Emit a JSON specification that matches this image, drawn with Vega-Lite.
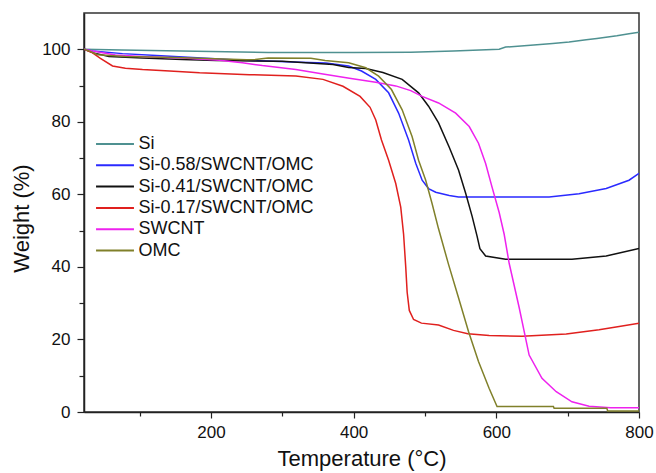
{
 "$schema": "https://vega.github.io/schema/vega-lite/v6.json",
 "width": 555, "height": 399,
 "autosize": {"type": "none"},
 "padding": {"left": 84, "top": 13, "right": 17, "bottom": 61},
 "background": "white",
 "config": {"font": "Liberation Sans", "view": {"stroke": "#333333", "strokeWidth": 1.5}},
 "datasets": {
  "tga": [
   {"s":"Si","T":22,"W":100},{"s":"Si","T":75,"W":99.8},{"s":"Si","T":200,"W":99.4},{"s":"Si","T":280,"W":99.1},{"s":"Si","T":400,"W":99.1},{"s":"Si","T":480,"W":99.2},{"s":"Si","T":540,"W":99.5},{"s":"Si","T":604,"W":100},{"s":"Si","T":613,"W":100.6},{"s":"Si","T":648,"W":101.1},{"s":"Si","T":679,"W":101.6},{"s":"Si","T":702,"W":102},{"s":"Si","T":726,"W":102.6},{"s":"Si","T":741,"W":103},{"s":"Si","T":769,"W":103.7},{"s":"Si","T":786,"W":104.3},{"s":"Si","T":800,"W":104.7},
   {"s":"Si-0.58/SWCNT/OMC","T":22,"W":100},{"s":"Si-0.58/SWCNT/OMC","T":34,"W":99.5},{"s":"Si-0.58/SWCNT/OMC","T":76,"W":98.8},{"s":"Si-0.58/SWCNT/OMC","T":130,"W":98.2},{"s":"Si-0.58/SWCNT/OMC","T":174,"W":97.7},{"s":"Si-0.58/SWCNT/OMC","T":244,"W":97},{"s":"Si-0.58/SWCNT/OMC","T":314,"W":96.5},{"s":"Si-0.58/SWCNT/OMC","T":361,"W":96.2},{"s":"Si-0.58/SWCNT/OMC","T":393,"W":95.4},{"s":"Si-0.58/SWCNT/OMC","T":411,"W":94},{"s":"Si-0.58/SWCNT/OMC","T":431,"W":91.7},{"s":"Si-0.58/SWCNT/OMC","T":449,"W":88},{"s":"Si-0.58/SWCNT/OMC","T":463,"W":82.4},{"s":"Si-0.58/SWCNT/OMC","T":477,"W":75},{"s":"Si-0.58/SWCNT/OMC","T":487,"W":68.6},{"s":"Si-0.58/SWCNT/OMC","T":496,"W":63.9},{"s":"Si-0.58/SWCNT/OMC","T":505,"W":61.6},{"s":"Si-0.58/SWCNT/OMC","T":515,"W":60.6},{"s":"Si-0.58/SWCNT/OMC","T":534,"W":59.7},{"s":"Si-0.58/SWCNT/OMC","T":547,"W":59.3},{"s":"Si-0.58/SWCNT/OMC","T":674,"W":59.3},{"s":"Si-0.58/SWCNT/OMC","T":716,"W":60.2},{"s":"Si-0.58/SWCNT/OMC","T":754,"W":61.6},{"s":"Si-0.58/SWCNT/OMC","T":786,"W":63.9},{"s":"Si-0.58/SWCNT/OMC","T":800,"W":65.8},
   {"s":"Si-0.41/SWCNT/OMC","T":22,"W":100},{"s":"Si-0.41/SWCNT/OMC","T":35,"W":99},{"s":"Si-0.41/SWCNT/OMC","T":57,"W":98},{"s":"Si-0.41/SWCNT/OMC","T":104,"W":97.6},{"s":"Si-0.41/SWCNT/OMC","T":160,"W":97.2},{"s":"Si-0.41/SWCNT/OMC","T":207,"W":96.9},{"s":"Si-0.41/SWCNT/OMC","T":300,"W":96.7},{"s":"Si-0.41/SWCNT/OMC","T":371,"W":95.8},{"s":"Si-0.41/SWCNT/OMC","T":393,"W":95},{"s":"Si-0.41/SWCNT/OMC","T":417,"W":94.7},{"s":"Si-0.41/SWCNT/OMC","T":441,"W":93.6},{"s":"Si-0.41/SWCNT/OMC","T":468,"W":91.7},{"s":"Si-0.41/SWCNT/OMC","T":491,"W":88},{"s":"Si-0.41/SWCNT/OMC","T":505,"W":84.3},{"s":"Si-0.41/SWCNT/OMC","T":519,"W":79.7},{"s":"Si-0.41/SWCNT/OMC","T":534,"W":73},{"s":"Si-0.41/SWCNT/OMC","T":547,"W":66.7},{"s":"Si-0.41/SWCNT/OMC","T":557,"W":60.3},{"s":"Si-0.41/SWCNT/OMC","T":566,"W":54},{"s":"Si-0.41/SWCNT/OMC","T":573,"W":48.5},{"s":"Si-0.41/SWCNT/OMC","T":577,"W":45},{"s":"Si-0.41/SWCNT/OMC","T":585,"W":43},{"s":"Si-0.41/SWCNT/OMC","T":613,"W":42.1},{"s":"Si-0.41/SWCNT/OMC","T":706,"W":42.1},{"s":"Si-0.41/SWCNT/OMC","T":754,"W":43},{"s":"Si-0.41/SWCNT/OMC","T":800,"W":45.1},
   {"s":"Si-0.17/SWCNT/OMC","T":22,"W":100},{"s":"Si-0.17/SWCNT/OMC","T":34,"W":99},{"s":"Si-0.17/SWCNT/OMC","T":45,"W":97.5},{"s":"Si-0.17/SWCNT/OMC","T":62,"W":95.4},{"s":"Si-0.17/SWCNT/OMC","T":80,"W":94.8},{"s":"Si-0.17/SWCNT/OMC","T":104,"W":94.4},{"s":"Si-0.17/SWCNT/OMC","T":142,"W":94},{"s":"Si-0.17/SWCNT/OMC","T":184,"W":93.5},{"s":"Si-0.17/SWCNT/OMC","T":254,"W":93},{"s":"Si-0.17/SWCNT/OMC","T":319,"W":92.6},{"s":"Si-0.17/SWCNT/OMC","T":357,"W":91.7},{"s":"Si-0.17/SWCNT/OMC","T":385,"W":89.8},{"s":"Si-0.17/SWCNT/OMC","T":409,"W":87},{"s":"Si-0.17/SWCNT/OMC","T":423,"W":84},{"s":"Si-0.17/SWCNT/OMC","T":431,"W":80.5},{"s":"Si-0.17/SWCNT/OMC","T":439,"W":75},{"s":"Si-0.17/SWCNT/OMC","T":449,"W":69.4},{"s":"Si-0.17/SWCNT/OMC","T":459,"W":63},{"s":"Si-0.17/SWCNT/OMC","T":466,"W":56.5},{"s":"Si-0.17/SWCNT/OMC","T":470,"W":49},{"s":"Si-0.17/SWCNT/OMC","T":473,"W":40},{"s":"Si-0.17/SWCNT/OMC","T":475,"W":33},{"s":"Si-0.17/SWCNT/OMC","T":478,"W":28},{"s":"Si-0.17/SWCNT/OMC","T":484,"W":25.5},{"s":"Si-0.17/SWCNT/OMC","T":495,"W":24.5},{"s":"Si-0.17/SWCNT/OMC","T":519,"W":24},{"s":"Si-0.17/SWCNT/OMC","T":540,"W":22.5},{"s":"Si-0.17/SWCNT/OMC","T":560,"W":21.6},{"s":"Si-0.17/SWCNT/OMC","T":590,"W":21.1},{"s":"Si-0.17/SWCNT/OMC","T":636,"W":20.9},{"s":"Si-0.17/SWCNT/OMC","T":698,"W":21.5},{"s":"Si-0.17/SWCNT/OMC","T":744,"W":22.7},{"s":"Si-0.17/SWCNT/OMC","T":770,"W":23.5},{"s":"Si-0.17/SWCNT/OMC","T":800,"W":24.5},
   {"s":"SWCNT","T":22,"W":100},{"s":"SWCNT","T":34,"W":99.5},{"s":"SWCNT","T":66,"W":98.4},{"s":"SWCNT","T":114,"W":97.9},{"s":"SWCNT","T":160,"W":97.6},{"s":"SWCNT","T":212,"W":97},{"s":"SWCNT","T":244,"W":96.3},{"s":"SWCNT","T":272,"W":95.5},{"s":"SWCNT","T":319,"W":94.4},{"s":"SWCNT","T":357,"W":93.2},{"s":"SWCNT","T":394,"W":92},{"s":"SWCNT","T":431,"W":90.9},{"s":"SWCNT","T":459,"W":89.9},{"s":"SWCNT","T":480,"W":88.6},{"s":"SWCNT","T":496,"W":87},{"s":"SWCNT","T":519,"W":85.2},{"s":"SWCNT","T":543,"W":82.4},{"s":"SWCNT","T":562,"W":78.7},{"s":"SWCNT","T":575,"W":74.1},{"s":"SWCNT","T":585,"W":68.5},{"s":"SWCNT","T":594,"W":62},{"s":"SWCNT","T":604,"W":55},{"s":"SWCNT","T":611,"W":49},{"s":"SWCNT","T":618,"W":41},{"s":"SWCNT","T":632,"W":28.8},{"s":"SWCNT","T":646,"W":15.7},{"s":"SWCNT","T":664,"W":9.3},{"s":"SWCNT","T":684,"W":5.6},{"s":"SWCNT","T":706,"W":2.8},{"s":"SWCNT","T":730,"W":1.6},{"s":"SWCNT","T":760,"W":1.2},{"s":"SWCNT","T":800,"W":1.2},
   {"s":"OMC","T":22,"W":100},{"s":"OMC","T":30,"W":99.5},{"s":"OMC","T":41,"W":98.5},{"s":"OMC","T":80,"W":98},{"s":"OMC","T":150,"W":97.7},{"s":"OMC","T":250,"W":97.1},{"s":"OMC","T":262,"W":97.2},{"s":"OMC","T":280,"W":97.6},{"s":"OMC","T":340,"W":97.5},{"s":"OMC","T":360,"W":96.9},{"s":"OMC","T":393,"W":96.3},{"s":"OMC","T":417,"W":94.9},{"s":"OMC","T":435,"W":92.6},{"s":"OMC","T":453,"W":88.9},{"s":"OMC","T":468,"W":83.3},{"s":"OMC","T":482,"W":75.9},{"s":"OMC","T":491,"W":69.4},{"s":"OMC","T":501,"W":63.9},{"s":"OMC","T":510,"W":57.4},{"s":"OMC","T":519,"W":50.5},{"s":"OMC","T":533,"W":40.7},{"s":"OMC","T":547,"W":31.5},{"s":"OMC","T":561,"W":22.2},{"s":"OMC","T":575,"W":13.9},{"s":"OMC","T":590,"W":6.5},{"s":"OMC","T":601,"W":1.5},{"s":"OMC","T":680,"W":1.5},{"s":"OMC","T":681,"W":1.0},{"s":"OMC","T":755,"W":1.0},{"s":"OMC","T":756,"W":0.3},{"s":"OMC","T":800,"W":0.3}
  ]
 },
 "data": {"name": "tga"},
 "mark": {"type": "line", "strokeWidth": 1.5, "clip": true},
 "encoding": {
  "x": {"field": "T", "type": "quantitative", "scale": {"domain": [22, 800], "nice": false, "zero": false},
   "axis": {"values": [100,200,300,400,500,600,700,800], "labelExpr": "datum.value % 200 == 0 ? datum.label : ''",
    "tickSize": {"condition": {"test": "datum.value % 200 != 0", "value": 4}, "value": 6},
    "grid": false, "domainColor": "#222", "tickColor": "#222", "domainWidth": 1.5, "tickWidth": 1.2,
    "labelFontSize": 17, "labelColor": "#111", "labelPadding": 6, "labelFlush": false,
    "title": "Temperature (°C)", "titleFontSize": 22, "titleFontWeight": "normal", "titleColor": "#111", "titlePadding": 8}},
  "y": {"field": "W", "type": "quantitative", "scale": {"domain": [0, 110], "nice": false},
   "axis": {"values": [0,10,20,30,40,50,60,70,80,90,100], "labelExpr": "datum.value % 20 == 0 ? datum.label : ''",
    "tickSize": {"condition": {"test": "datum.value % 20 != 0", "value": 5}, "value": 7},
    "grid": false, "domainColor": "#222", "tickColor": "#222", "domainWidth": 1.5, "tickWidth": 1.2,
    "labelFontSize": 17, "labelColor": "#111", "labelPadding": 7,
    "title": "Weight (%)", "titleFontSize": 22, "titleFontWeight": "normal", "titleColor": "#111", "titlePadding": 8, "titleY": 205}},
  "color": {"field": "s", "type": "nominal",
   "scale": {"domain": ["Si","Si-0.58/SWCNT/OMC","Si-0.41/SWCNT/OMC","Si-0.17/SWCNT/OMC","SWCNT","OMC"],
             "range": ["#4f9191","#2a2aff","#111111","#e0201e","#ee22ee","#80802a"]},
   "legend": {"orient": "none", "legendX": 19, "legendY": 119, "title": null, "padding": 0,
    "symbolType": "M -1.78 0 L 1.78 0", "symbolSize": 454, "symbolStrokeWidth": 2, "symbolFillColor": "transparent",
    "labelFontSize": 18, "labelColor": "#111", "labelLimit": 400,
    "rowPadding": 0.3, "labelOffset": 11.4}}
 }
}
